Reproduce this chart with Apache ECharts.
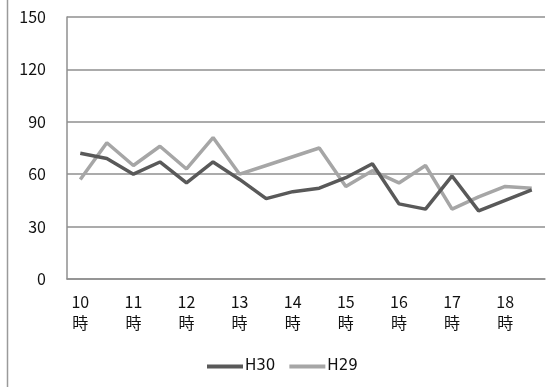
<!DOCTYPE html>
<html>
<head>
<meta charset="utf-8">
<script src="https://cdn.jsdelivr.net/npm/echarts@6/dist/echarts.min.js"></script>
<style>html,body{margin:0;padding:0;background:#fff;}#c{width:558px;height:387px;}</style>
</head>
<body>
<div id="c"></div>
<script>
var categories = ['10:00','10:30','11:00','11:30','12:00','12:30','13:00','13:30','14:00','14:30','15:00','15:30','16:00','16:30','17:00','17:30','18:00','18:30'];
var tickLabels = ['10\n時','','11\n時','','12\n時','','13\n時','','14\n時','','15\n時','','16\n時','','17\n時','','18\n時',''];
var h30 = [72, 69, 60, 67, 55, 67, 57, 46, 50, 52, 58, 66, 43, 40, 59, 39, 45, 51];
var h29 = [57, 78, 65, 76, 63, 81, 60, 65, 70, 75, 53, 62, 55, 65, 40, 47, 53, 52];
var yTicks = [0, 30, 60, 90, 120, 150];

var chart = echarts.init(document.getElementById('c'), null, {renderer: 'canvas'});
var font = '"Noto Sans CJK JP", "Noto Sans", sans-serif';
chart.setOption({
  animation: false,
  backgroundColor: '#fff',
  graphic: [{type: 'line', shape: {x1: 7.5, y1: 0, x2: 7.5, y2: 387}, style: {stroke: '#9a9a9a', lineWidth: 1.5}}],
  grid: {left: 67, right: 13, top: 17, bottom: 108, containLabel: false},
  legend: {
    left: 202, top: 354, icon: 'rect', itemWidth: 36, itemHeight: 4, itemGap: 14,
    textStyle: {fontFamily: '"DejaVu Sans", sans-serif', fontSize: 15, color: '#111', padding: [0, 0, 0, -3]},
    data: ['H30', 'H29']
  },
  xAxis: {
    type: 'category', data: categories, boundaryGap: true,
    axisLine: {show: true, lineStyle: {color: '#8f8f8f', width: 1.5}},
    axisTick: {show: false},
    axisLabel: {interval: 0, margin: 12, fontFamily: font, fontSize: 16, lineHeight: 21, color: '#111',
      formatter: function (v, i) { return tickLabels[i]; }}
  },
  yAxis: {
    type: 'value', min: yTicks[0], max: yTicks[yTicks.length - 1], interval: 30,
    axisLine: {show: true, lineStyle: {color: '#8f8f8f', width: 1.5}},
    axisTick: {show: false},
    splitLine: {show: true, lineStyle: {color: '#8f8f8f', width: 1.5}},
    axisLabel: {margin: 21, fontFamily: font, fontSize: 16, color: '#111'}
  },
  series: [
    {name: 'H30', type: 'line', data: h30, symbol: 'none', color: '#595959', lineStyle: {width: 3.5, color: '#595959'}, z: 3},
    {name: 'H29', type: 'line', data: h29, symbol: 'none', color: '#a6a6a6', lineStyle: {width: 3.5, color: '#a6a6a6'}, z: 2}
  ]
});
</script>
</body>
</html>
